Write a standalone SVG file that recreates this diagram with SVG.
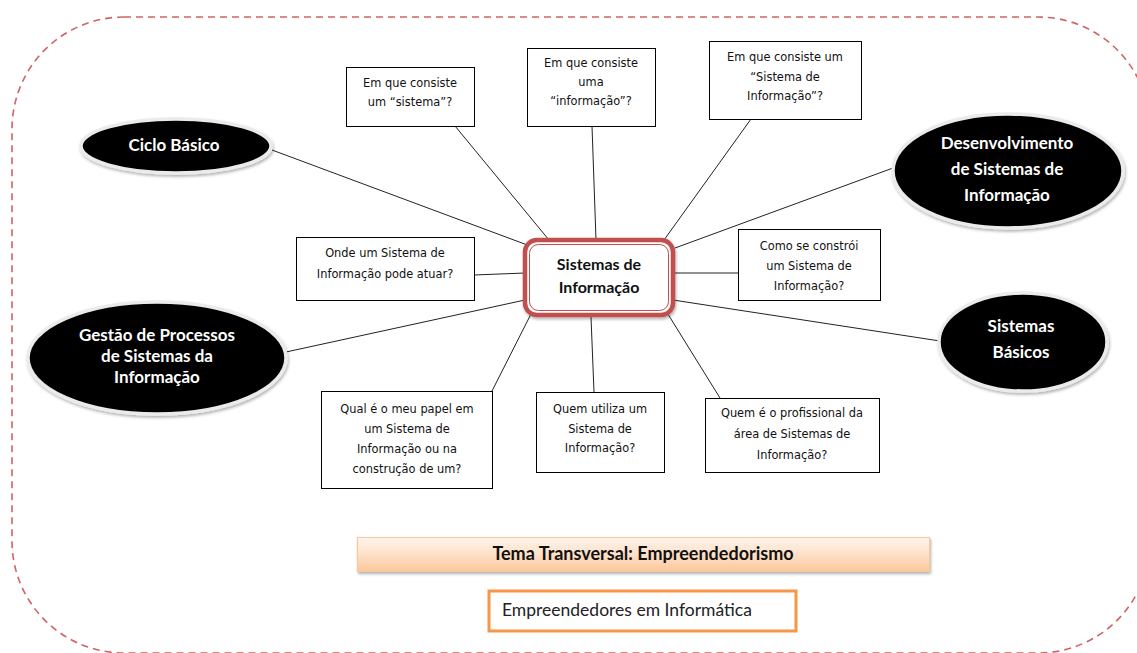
<svg xmlns="http://www.w3.org/2000/svg" width="1137" height="653" viewBox="0 0 1137 653">
<defs>
<linearGradient id="peach" x1="0" y1="0" x2="0" y2="1">
<stop offset="0" stop-color="#fff4ec"/>
<stop offset="0.5" stop-color="#fde0c8"/>
<stop offset="1" stop-color="#fbc89c"/>
</linearGradient>
<filter id="sh" x="-20%" y="-20%" width="140%" height="150%">
<feDropShadow dx="1" dy="2" stdDeviation="1.5" flood-color="#000" flood-opacity="0.3"/>
</filter>
</defs>
<style>
.conn line{stroke:#222;stroke-width:1;}
.box{fill:#fff;stroke:#000;stroke-width:1;}
.bt{font-family:"DejaVu Sans",Verdana,sans-serif;font-size:11.4px;fill:#111;text-anchor:middle;}
.ell{fill:#000;stroke:#ebebeb;stroke-width:3.5;filter:url(#sh);}
.et{font-family:Lato,"Liberation Sans",sans-serif;font-size:17px;font-weight:bold;fill:#fff;text-anchor:middle;}
.ct{font-family:Lato,"Liberation Sans",sans-serif;font-size:16px;font-weight:bold;fill:#111;text-anchor:middle;}
</style>
<rect x="12" y="17" width="1138" height="636" rx="112" ry="112" fill="none" stroke="#cf6464" stroke-width="1.6" stroke-dasharray="7 5"/>
<g id="connectors" class="conn">
<line x1="272" y1="150" x2="530" y2="246"/>
<line x1="455" y1="126" x2="549" y2="240"/>
<line x1="592" y1="126" x2="596" y2="240"/>
<line x1="751" y1="119" x2="664" y2="240"/>
<line x1="893" y1="168" x2="675" y2="248"/>
<line x1="474" y1="275" x2="525" y2="273"/>
<line x1="673" y1="273" x2="738" y2="273"/>
<line x1="286" y1="352" x2="525" y2="300"/>
<line x1="940" y1="341" x2="673" y2="300"/>
<line x1="492" y1="391" x2="532" y2="312"/>
<line x1="594" y1="392" x2="591" y2="317"/>
<line x1="720" y1="398" x2="666" y2="311"/>
</g>
<g id="center">
<rect x="525" y="240" width="148" height="75" rx="12" fill="#fff" stroke="#c0504d" stroke-width="4.5" filter="url(#sh)"/>
<rect x="529.5" y="244.5" width="139" height="66" rx="9" fill="none" stroke="#c0504d" stroke-width="1"/>
<text class="ct" x="599" y="270">Sistemas de</text>
<text class="ct" x="599" y="293">Informação</text>
</g>
<g id="q-sistema">
<rect class="box" x="346.5" y="67.5" width="128" height="59"/>
<text class="bt" x="410" y="87">Em que consiste</text>
<text class="bt" x="410" y="106">um “sistema”?</text>
</g>
<g id="q-informacao">
<rect class="box" x="527.5" y="48.5" width="128" height="78"/>
<text class="bt" x="591" y="67">Em que consiste</text>
<text class="bt" x="591" y="86">uma</text>
<text class="bt" x="591" y="105">“informação”?</text>
</g>
<g id="q-si">
<rect class="box" x="709.5" y="41.5" width="152" height="78"/>
<text class="bt" x="785" y="61">Em que consiste um</text>
<text class="bt" x="785" y="81">“Sistema de</text>
<text class="bt" x="785" y="100">Informação”?</text>
</g>
<g id="q-onde">
<rect class="box" x="296.5" y="237.5" width="178" height="63"/>
<text class="bt" x="385" y="257">Onde um Sistema de</text>
<text class="bt" x="385" y="278">Informação pode atuar?</text>
</g>
<g id="q-como">
<rect class="box" x="738.5" y="229.5" width="142" height="71"/>
<text class="bt" x="809" y="250">Como se constrói</text>
<text class="bt" x="809" y="270">um Sistema de</text>
<text class="bt" x="809" y="290">Informação?</text>
</g>
<g id="q-papel">
<rect class="box" x="321.5" y="391.5" width="171" height="97"/>
<text class="bt" x="407" y="413">Qual é o meu papel em</text>
<text class="bt" x="407" y="433">um Sistema de</text>
<text class="bt" x="407" y="453">Informação ou na</text>
<text class="bt" x="407" y="473">construção de um?</text>
</g>
<g id="q-utiliza">
<rect class="box" x="536.5" y="392.5" width="128" height="80"/>
<text class="bt" x="600" y="413">Quem utiliza um</text>
<text class="bt" x="600" y="433">Sistema de</text>
<text class="bt" x="600" y="452">Informação?</text>
</g>
<g id="q-profissional">
<rect class="box" x="705.5" y="398.5" width="174" height="74"/>
<text class="bt" x="792" y="417">Quem é o profissional da</text>
<text class="bt" x="792" y="438">área de Sistemas de</text>
<text class="bt" x="792" y="459">Informação?</text>
</g>
<g id="ciclo-basico">
<ellipse class="ell" cx="176" cy="146" rx="95" ry="27"/>
<text class="et" x="174" y="151">Ciclo Básico</text>
</g>
<g id="desenvolvimento">
<ellipse class="ell" cx="1008" cy="171" rx="115" ry="57"/>
<text class="et" x="1007" y="149">Desenvolvimento</text>
<text class="et" x="1007" y="175">de Sistemas de</text>
<text class="et" x="1007" y="201">Informação</text>
</g>
<g id="gestao">
<ellipse class="ell" cx="157" cy="358" rx="129" ry="56"/>
<text class="et" x="157" y="341">Gestão de Processos</text>
<text class="et" x="157" y="362">de Sistemas da</text>
<text class="et" x="157" y="383">Informação</text>
</g>
<g id="sistemas-basicos">
<ellipse class="ell" cx="1023" cy="342" rx="84" ry="49"/>
<text class="et" x="1021" y="332">Sistemas</text>
<text class="et" x="1021" y="358">Básicos</text>
</g>
<g id="tema">
<rect x="357.5" y="537.5" width="572" height="34" fill="url(#peach)" stroke="#f9c79c" stroke-width="1" filter="url(#sh)"/>
<text x="643" y="560" font-family="Lato,'Liberation Sans',sans-serif" font-size="18" font-weight="bold" fill="#111" text-anchor="middle">Tema Transversal: Empreendedorismo</text>
</g>
<g id="empreendedores">
<rect x="489" y="591" width="307" height="40" fill="#fff" stroke="#f79646" stroke-width="3"/>
<text x="502" y="616" font-family="Lato,'Liberation Sans',sans-serif" font-size="17.5" fill="#222">Empreendedores em Informática</text>
</g>
</svg>
